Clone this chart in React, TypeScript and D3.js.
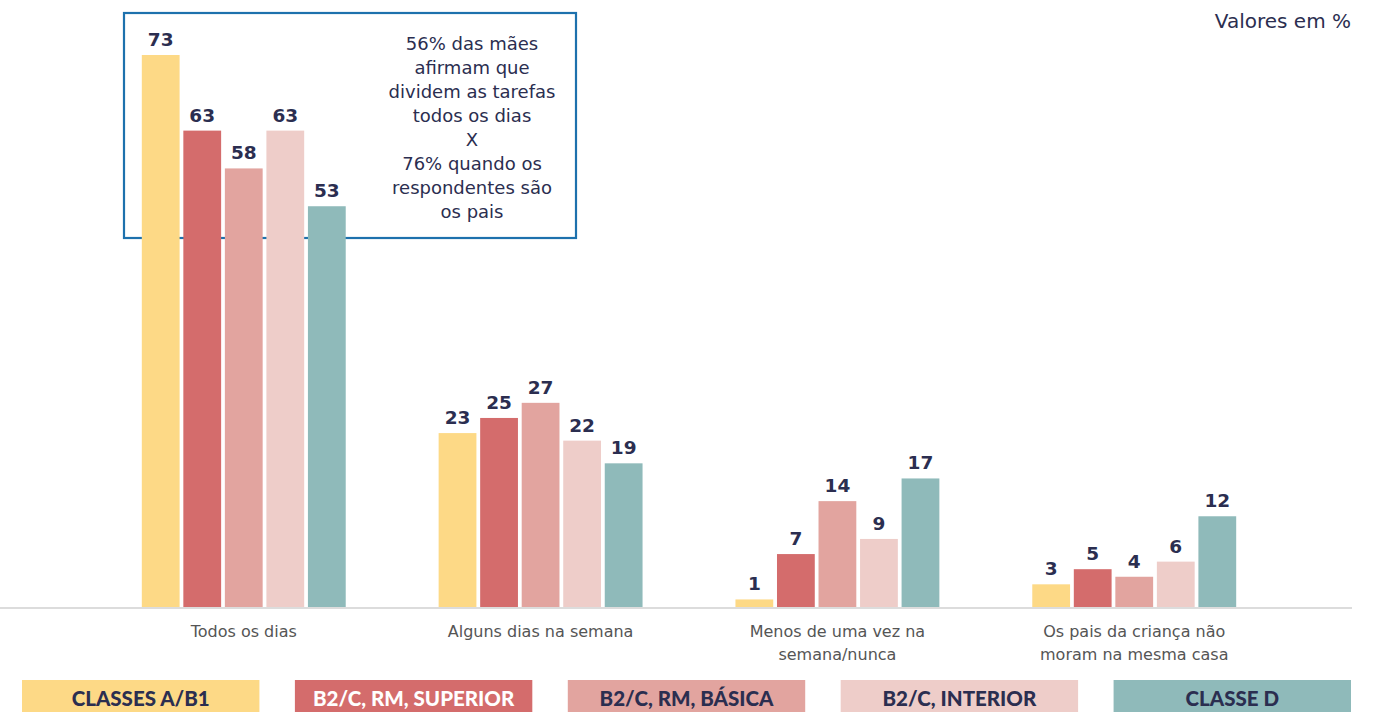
import React from "react";
import * as d3 from "d3";

const categories = ["Todos os dias", "Alguns dias na semana", "Menos de uma vez na|semana/nunca", "Os pais da criança não|moram na mesma casa"];
const series = ["CLASSES A/B1", "B2/C, RM, SUPERIOR", "B2/C, RM, BÁSICA", "B2/C, INTERIOR", "CLASSE D"];
const values: number[][] = [
  [73, 23, 1, 3],
  [63, 25, 7, 5],
  [58, 27, 14, 4],
  [63, 22, 9, 6],
  [53, 19, 17, 12],
];
const colors = ["#fdd986", "#d46c6c", "#e2a49f", "#eecdc9", "#8fbaba"];
const legendText = ["#2b2e50", "#ffffff", "#2b2e50", "#2b2e50", "#2b2e50"];
const noteLines = ["56% das mães", "afirmam que", "dividem as tarefas", "todos os dias", "X", "76% quando os", "respondentes são", "os pais"];

const W = 1385, H = 712;
const FONT = "'DejaVu Sans', sans-serif";
const LEGFONT = "Lato, sans-serif";
const NAVY = "#2b2e50";

export default function App() {
  const baseline = 607;
  const y = d3.scaleLinear().domain([0, 73]).range([baseline, 55]);
  const x0 = d3.scaleBand<string>().domain(categories).range([95.5, 1282.5]).paddingInner(0.313).paddingOuter(0.156);
  const x1 = d3.scaleBand<string>().domain(series).range([0, x0.bandwidth()]).paddingInner(0.09);
  const legendX = d3.scaleBand<string>().domain(series).range([22, 1351]).paddingInner(0.13).paddingOuter(0);

  return (
    <svg width={W} height={H} style={{ position: "absolute", left: 0, top: 0, display: "block" }} fontFamily={FONT}>
      <rect width={W} height={H} fill="#fff" />
      <rect x={124} y={13} width={452} height={225} fill="none" stroke="#1d71ad" strokeWidth={2.2} />
      {categories.map((c, ci) => (
        <g key={c}>
          {series.map((s, si) => {
            const v = values[si][ci];
            const bx = (x0(c) as number) + (x1(s) as number);
            return (
              <g key={s}>
                <rect x={bx} y={y(v)} width={x1.bandwidth()} height={baseline - y(v)} fill={colors[si]} />
                <text x={bx + x1.bandwidth() / 2} y={y(v) - 9} textAnchor="middle" fontSize={18.5} fontWeight={700} fill={NAVY}>{v}</text>
              </g>
            );
          })}
          {c.split("|").map((line, li) => (
            <text key={li} x={(x0(c) as number) + x0.bandwidth() / 2} y={637 + li * 23} textAnchor="middle" fontSize={16} fill="#555">{line}</text>
          ))}
        </g>
      ))}
      <line x1={0} x2={1352} y1={608} y2={608} stroke="#dcdcdc" strokeWidth={2} />
      {noteLines.map((l, i) => (
        <text key={i} x={472} y={50 + i * 24} textAnchor="middle" fontSize={18} fill={NAVY}>{l}</text>
      ))}
      <text x={1351} y={28} textAnchor="end" fontSize={20} fill={NAVY}>Valores em %</text>
      {series.map((s, si) => (
        <g key={s}>
          <rect x={legendX(s)} y={680} width={legendX.bandwidth()} height={32} fill={colors[si]} />
          <text x={(legendX(s) as number) + legendX.bandwidth() / 2} y={706} textAnchor="middle" fontSize={20.5} fontWeight={900} fill={legendText[si]} fontFamily={LEGFONT}>{s}</text>
        </g>
      ))}
    </svg>
  );
}
